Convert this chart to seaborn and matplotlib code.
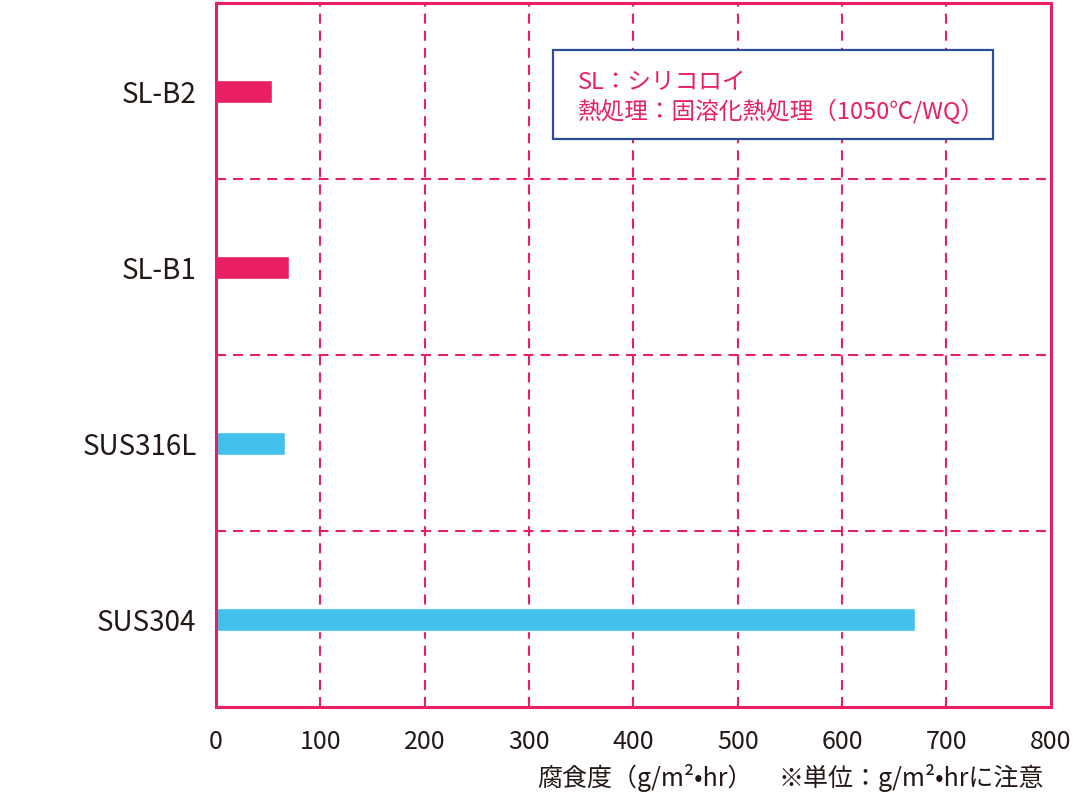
import matplotlib
matplotlib.use('Agg')
import matplotlib.pyplot as plt
import matplotlib.patches as mpatches
import pandas as pd
import seaborn as sns

# data
materials = ['SL-B2', 'SL-B1', 'SUS316L', 'SUS304']
corrosion = [54, 70, 66, 670]
groups = ['SL', 'SL', 'SUS', 'SUS']
x_ticks = [0, 100, 200, 300, 400, 500, 600, 700, 800]

PINK = '#E91E63'
BLUE = '#44C0EC'
DARK = '#231815'
NAVY = '#2A4E9C'

sns.set_theme(style='white')
plt.rcParams['font.family'] = ['Noto Sans CJK JP', 'DejaVu Sans']

df = pd.DataFrame({'material': materials, 'rate': corrosion, 'group': groups})

fig = plt.figure(figsize=(10.8, 7.92), dpi=100)
ax = fig.add_axes([0.2, 0.107, 0.773, 0.889])

sns.barplot(ax=ax, data=df, y='material', x='rate', hue='group',
            palette={'SL': PINK, 'SUS': BLUE}, orient='h', width=0.13,
            dodge=False, legend=False, saturation=1)

ax.set_xlim(0, 800)
ax.set_ylim(3.5, -0.5)
ax.set_xticks(x_ticks)
ax.set_xlabel('')
ax.set_ylabel('')

# grid
dash = (0, (4.8, 3.4))
for v in x_ticks[1:-1]:
    ax.axvline(v, color=PINK, lw=1.5, ls=dash, zorder=0)
for h in [0.5, 1.5, 2.5]:
    ax.axhline(h, color=PINK, lw=1.5, ls=dash, zorder=0)

# frame
for sp in ax.spines.values():
    sp.set_visible(True)
    sp.set_color(PINK)
    sp.set_linewidth(2.2)

ax.tick_params(axis='x', direction='in', length=3, width=1.2, color=PINK,
               bottom=True, pad=16, labelsize=18, labelcolor=DARK)
ax.tick_params(axis='y', length=0, pad=14, labelsize=20, labelcolor=DARK)

# note box
ax.add_patch(mpatches.Rectangle((0.4036, 0.807), 0.527, 0.126,
                                transform=ax.transAxes, facecolor='white',
                                edgecolor=NAVY, lw=1.6, zorder=5))
ax.text(0.4335, 0.887, 'SL：シリコロイ', transform=ax.transAxes,
        color=PINK, fontsize=17, va='center', ha='left', zorder=6)
ax.text(0.4335, 0.846, '熱処理：固溶化熱処理（1050℃/WQ）', transform=ax.transAxes,
        color=PINK, fontsize=17, va='center', ha='left', zorder=6)

# axis caption
fig.text(537 / 1080, 0.007, '腐食度（g/m²•hr）', color=DARK, fontsize=18,
         ha='left', va='baseline')
fig.text(778 / 1080, 0.007, '※単位：g/m²•hrに注意', color=DARK, fontsize=18,
         ha='left', va='baseline')

fig.savefig('out.png', dpi=100)
